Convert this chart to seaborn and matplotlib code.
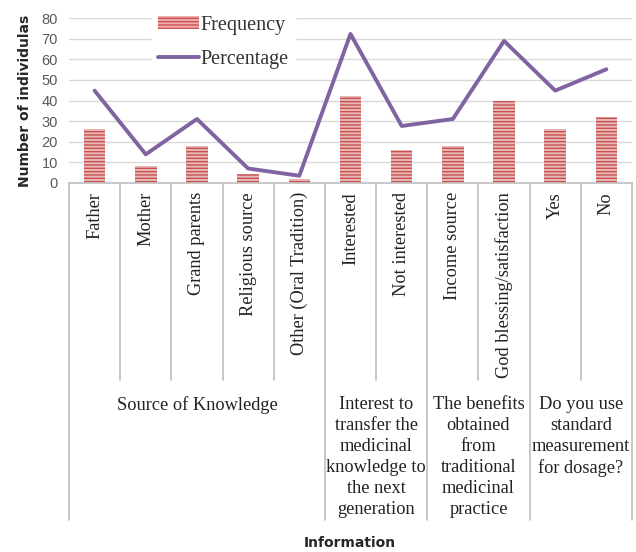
import numpy as np
import pandas as pd
import seaborn as sns
import matplotlib
matplotlib.use("Agg")
import matplotlib.pyplot as plt
from matplotlib.patches import Patch
from matplotlib.lines import Line2D

categories = ["Father", "Mother", "Grand parents", "Religious source",
              "Other (Oral Tradition)", "Interested", "Not interested",
              "Income source", "God blessing/satisfaction", "Yes", "No"]
frequency = [26, 8, 18, 4, 2, 42, 16, 18, 40, 26, 32]
percentage = [44.8, 13.8, 31.0, 6.9, 3.4, 72.4, 27.6, 31.0, 69.0, 44.8, 55.2]
groups = ["Source of Knowledge",
          "Interest to\ntransfer the\nmedicinal\nknowledge to\nthe next\ngeneration",
          "The benefits\nobtained\nfrom\ntraditional\nmedicinal\npractice",
          "Do you use\nstandard\nmeasurement\nfor dosage?"]
group_sizes = [5, 2, 2, 2]
yticks = [0, 10, 20, 30, 40, 50, 60, 70, 80]

sns.set_theme(style="white")
plt.rcParams["hatch.linewidth"] = 1.0

df = pd.DataFrame({"cat": categories, "freq": frequency, "pct": percentage})

fig = plt.figure(figsize=(6.36, 5.52), dpi=100)
ax = fig.add_axes([69 / 636, 1 - 182.7 / 552, 563 / 636, 164.4 / 552])

sns.barplot(data=df, x="cat", y="freq", ax=ax, width=0.42,
            color="#eeb0af", edgecolor="#c9504f", linewidth=0,
            hatch="-----", zorder=2)
for p in ax.patches:
    p.set_hatch("-----")
    p.set_edgecolor("#c9504f")
    p.set_linewidth(0)

sns.lineplot(x=np.arange(len(categories)), y=df["pct"], ax=ax,
             color="#8064a2", linewidth=2.8, zorder=3)

ax.set_xlim(-0.5, len(categories) - 0.5)
ax.set_ylim(0, 80)
ax.set_yticks(yticks)
ax.set_yticklabels([str(t) for t in yticks], color="#595959",
                   fontsize=10.5, family="Liberation Sans")
ax.tick_params(axis="y", length=0, pad=8)
ax.yaxis.grid(True, color="#d9d9d9", linewidth=1, zorder=0)
ax.set_axisbelow(True)
ax.set_xticks([])
ax.set_xlabel("")
ax.set_ylabel("Number of individulas", fontsize=10, fontweight="bold",
              family="DejaVu Sans", labelpad=7)
for s in ["left", "top", "right"]:
    ax.spines[s].set_visible(False)
ax.spines["bottom"].set_color("#bfbfbf")
ax.spines["bottom"].set_linewidth(1.2)

trans = ax.get_xaxis_transform()
axh = 164.4
y_inner = -(380 - 182.7) / axh
y_group = -(520 - 182.7) / axh
y_lbl = -(192 - 182.7) / axh
y_grp = -(396 - 182.7) / axh

# category labels
for i, c in enumerate(categories):
    ax.text(i, y_lbl, c, rotation=90, ha="center", va="top",
            transform=trans, fontsize=13.2, family="Liberation Serif",
            color="#222222", clip_on=False)

# separators
boundaries = np.cumsum([0] + group_sizes)
for b in range(len(categories) + 1):
    x = b - 0.5
    ybot = y_group if b in boundaries else y_inner
    ax.add_line(Line2D([x, x], [0, ybot], transform=trans, color="#bfbfbf",
                       linewidth=1.2, clip_on=False))

# group labels
for g, s0, n in zip(groups, boundaries[:-1], group_sizes):
    xc = s0 - 0.5 + n / 2
    ax.text(xc, y_grp, g, ha="center", va="top", transform=trans,
            fontsize=13.2, family="Liberation Serif", color="#222222",
            linespacing=1.3, clip_on=False)

fig.text(350 / 636, 1 - 543 / 552, "Information", ha="center", va="center",
         fontsize=10, fontweight="bold", family="DejaVu Sans")

handles = [Patch(facecolor="#eeb0af", edgecolor="#c9504f", hatch="-----",
                 linewidth=0),
           Line2D([0], [0], color="#8064a2", linewidth=2.8)]
leg = ax.legend(handles, ["Frequency", "Percentage"], loc="upper left",
                bbox_to_anchor=(0.13, 1.115), frameon=True, fancybox=False,
                framealpha=1, edgecolor="white", handlelength=2.0,
                handleheight=0.6, labelspacing=0.75, handletextpad=0.1,
                borderpad=0.3,
                prop={"family": "Liberation Serif", "size": 14.5})
leg.set_zorder(5)
for t in leg.get_texts():
    t.set_color("#333333")

fig.savefig("out.png", dpi=100)
